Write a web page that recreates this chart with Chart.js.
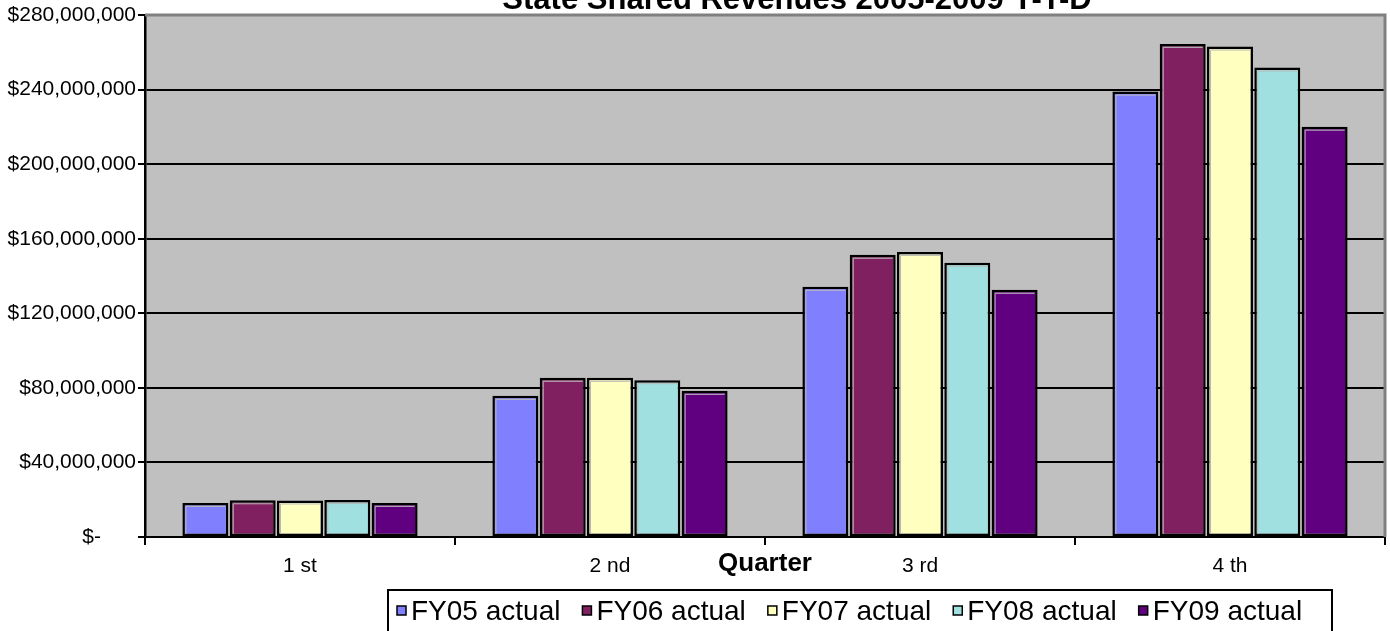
<!DOCTYPE html>
<html>
<head>
<meta charset="utf-8">
<script src="https://cdn.jsdelivr.net/npm/chart.js@4.4.1/dist/chart.umd.min.js"></script>
<style>
  body { margin: 0; background: #fff; }
  #wrap { width: 1390px; height: 631px; }
</style>
</head>
<body>
<div id="wrap"><canvas id="myChartRevenues" width="1390" height="631"></canvas></div>
<script>
const quarters = ['1 st', '2 nd', '3 rd', '4 th']
const seriesNames = ['FY05 actual', 'FY06 actual', 'FY07 actual', 'FY08 actual', 'FY09 actual']
const fy05 = [18300000, 75700000, 134200000, 238900000]
const fy06 = [19700000, 85400000, 151400000, 264500000]
const fy07 = [19600000, 85400000, 152900000, 263100000]
const fy08 = [19800000, 84100000, 147100000, 251800000]
const fy09 = [18300000, 78400000, 132600000, 220100000]
const yTicks = [0, 40000000, 80000000, 120000000, 160000000, 200000000, 240000000, 280000000]
const chartTitle = 'State Shared Revenues 2005-2009 Y-T-D'
const axisTitle = 'Quarter'

const colors = ['#8080FF', '#802060', '#FFFFC0', '#A0E0E0', '#600080']
const allSeries = [fy05, fy06, fy07, fy08, fy09]

const fontFam = '"Liberation Sans", Arial, sans-serif'

// grey plot area + grey top/right frame
const plotBg = {
    id: 'plotBg',
    beforeDraw(chart) {
        const { ctx, chartArea: a } = chart
        ctx.save()
        ctx.fillStyle = '#C0C0C0'
        ctx.fillRect(a.left, a.top, a.right - a.left, a.bottom - a.top)
        ctx.restore()
    },
    afterDraw(chart) {
        const { ctx, chartArea: a } = chart
        ctx.save()
        ctx.strokeStyle = '#808080'
        ctx.lineWidth = 3
        ctx.beginPath()
        ctx.moveTo(a.left, a.top)
        ctx.lineTo(a.right, a.top)
        ctx.lineTo(a.right, a.bottom)
        ctx.stroke()
        ctx.restore()
    }
}

// light inner edge on bars (the old excel look)
const barEdge = {
    id: 'barEdge',
    afterDatasetsDraw(chart) {
        const ctx = chart.ctx
        ctx.save()
        ctx.strokeStyle = '#B8B8B8'
        ctx.lineWidth = 1
        chart.data.datasets.forEach((ds, i) => {
            chart.getDatasetMeta(i).data.forEach(bar => {
                const l = bar.x - bar.width / 2 + 3.5
                const t = bar.y + 3.5
                ctx.beginPath()
                ctx.moveTo(l, bar.base - 2)
                ctx.lineTo(l, t)
                ctx.lineTo(bar.x + bar.width / 2 - 3, t)
                ctx.stroke()
            })
        })
        ctx.restore()
    }
}

// title (cut at the top), axis title and boxed legend
const texts = {
    id: 'texts',
    afterDraw(chart) {
        const { ctx, chartArea: a } = chart
        ctx.save()
        ctx.fillStyle = '#000'
        ctx.textAlign = 'center'
        ctx.font = 'bold 31px ' + fontFam
        ctx.textBaseline = 'alphabetic'
        ctx.fillText(chartTitle, 797, 9)

        ctx.font = 'bold 26px ' + fontFam
        ctx.textBaseline = 'middle'
        ctx.fillText(axisTitle, (a.left + a.right) / 2, 564)

        // legend
        ctx.strokeStyle = '#000'
        ctx.lineWidth = 2
        ctx.strokeRect(388, 590, 944, 50)
        ctx.font = '28px ' + fontFam
        ctx.textAlign = 'left'
        let x = 397
        chart.data.datasets.forEach(ds => {
            ctx.fillStyle = ds.backgroundColor
            ctx.fillRect(x, 606, 9, 9)
            ctx.lineWidth = 1.5
            ctx.strokeRect(x, 606, 9, 9)
            ctx.fillStyle = '#000'
            ctx.fillText(ds.label, x + 14, 612)
            x += 14 + ctx.measureText(ds.label).width + 22
        })
        ctx.restore()
    }
}

var ctx = document.getElementById('myChartRevenues')
var myChart = new Chart(ctx, {
    type: 'bar',
    data: {
        labels: quarters,
        datasets: allSeries.map((vals, i) => ({
            label: seriesNames[i],
            data: vals,
            backgroundColor: colors[i],
            borderColor: '#000',
            borderWidth: 2.5,
            borderSkipped: false,
            categoryPercentage: 0.763,
            barPercentage: 0.972
        }))
    },
    options: {
        responsive: false,
        animation: false,
        devicePixelRatio: 1,
        layout: { padding: { top: 15, right: 5, left: 0, bottom: 0 } },
        plugins: {
            legend: { display: false },
            title: { display: false },
            tooltip: { enabled: false }
        },
        scales: {
            x: {
                afterFit: (scale) => { scale.height = 94 },
                grid: {
                    offset: true,
                    drawOnChartArea: false,
                    drawTicks: true,
                    tickLength: 8,
                    color: '#000',
                    lineWidth: 2
                },
                border: { color: '#000', width: 2 },
                ticks: {
                    color: '#000',
                    padding: 9,
                    font: { family: fontFam, size: 21 }
                }
            },
            y: {
                min: 0,
                max: 280000000,
                afterFit: (scale) => { scale.width = 145 },
                afterBuildTicks: (scale) => { scale.ticks = yTicks.map(v => ({ value: v })) },
                grid: {
                    color: (c) => c.tick && c.tick.value === 280000000 ? '#808080' : '#000',
                    lineWidth: 2,
                    tickLength: 7,
                    tickColor: '#000'
                },
                border: { color: '#000', width: 2.5 },
                ticks: {
                    color: '#000',
                    padding: 2,
                    font: { family: fontFam, size: 21 },
                    callback: (v) => v === 0 ? '$-      ' : '$' + v.toLocaleString('en-US')
                }
            }
        }
    },
    plugins: [plotBg, barEdge, texts]
})
</script>
</body>
</html>
